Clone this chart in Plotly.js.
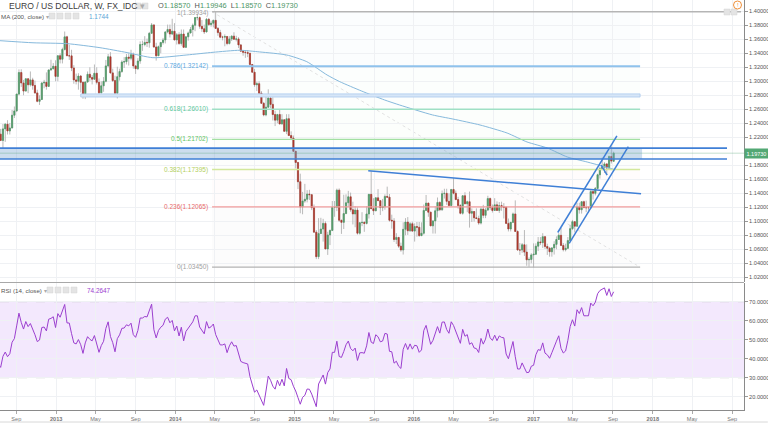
<!DOCTYPE html>
<html><head><meta charset="utf-8">
<script src="https://cdn.plot.ly/plotly-3.0.1.min.js"></script>
<style>html,body{margin:0;padding:0;background:#fff}#chart{width:768px;height:424px}</style>
</head><body><div id="chart"></div>
<script>
// ---------- DATA (weekly EUR/USD, [open, high, low, close]) ----------
const firstWeek = '2012-01-01';
const w2012 = [
[1.2960,1.3080,1.2700,1.2720],[1.2720,1.2880,1.2624,1.2680],[1.2680,1.2985,1.2665,1.2935],[1.2935,1.3165,1.2910,1.3130],[1.3130,1.3235,1.2975,1.3155],
[1.3155,1.3320,1.3065,1.3195],[1.3195,1.3270,1.2975,1.3150],[1.3150,1.3485,1.3150,1.3445],[1.3445,1.3485,1.3185,1.3195],
[1.3195,1.3290,1.3050,1.3120],[1.3120,1.3205,1.3005,1.3175],[1.3175,1.3295,1.3140,1.3275],[1.3275,1.3385,1.3210,1.3340],
[1.3340,1.3385,1.3080,1.3085],[1.3085,1.3185,1.3000,1.3075],
[1.3075,1.3210,1.3035,1.3195],[1.3195,1.3265,1.3110,1.3235],[1.3235,1.3285,1.3075,1.3085],
[1.3085,1.3090,1.2910,1.2915],[1.2915,1.2925,1.2640,1.2780],[1.2780,1.2825,1.2495,1.2515],[1.2515,1.2560,1.2290,1.2435],
[1.2435,1.2625,1.2390,1.2630],[1.2630,1.2670,1.2440,1.2640],[1.2640,1.2745,1.2515,1.2570],[1.2570,1.2690,1.2405,1.2665],
[1.2665,1.2695,1.2290,1.2290],[1.2290,1.2300,1.2160,1.2245],[1.2245,1.2320,1.2145,1.2155],[1.2155,1.2390,1.2042,1.2320],[1.2320,1.2405,1.2135,1.2387],
[1.2387,1.2444,1.2240,1.2290],[1.2290,1.2405,1.2240,1.2333],[1.2333,1.2590,1.2330,1.2515],[1.2515,1.2640,1.2475,1.2577],
[1.2577,1.2820,1.2560,1.2817],[1.2817,1.3170,1.2800,1.3125],[1.3125,1.3172,1.2920,1.2976],[1.2976,1.3020,1.2800,1.2860],[1.2860,1.3040,1.2860,1.3036],
[1.3036,1.3040,1.2830,1.2950],[1.2950,1.3140,1.2925,1.3020],[1.3020,1.3050,1.2880,1.2940],[1.2940,1.3010,1.2820,1.2834],
[1.2834,1.2880,1.2700,1.2713],[1.2713,1.2800,1.2662,1.2740],[1.2740,1.2990,1.2735,1.2975],[1.2975,1.3020,1.2900,1.2985],
[1.2985,1.3127,1.2880,1.2927],[1.2927,1.3165,1.2920,1.3162],[1.3162,1.3308,1.3150,1.3180],[1.3180,1.3260,1.3170,1.3214],[1.3214,1.3300,1.3000,1.3070]
];
const w2013 = [
[1.3070,1.3370,1.3000,1.3365],[1.3365,1.3400,1.3255,1.3315],[1.3315,1.3480,1.3255,1.3455],[1.3455,1.3711,1.3440,1.3635],
[1.3635,1.3650,1.3360,1.3365],[1.3365,1.3520,1.3305,1.3363],[1.3363,1.3450,1.3145,1.3190],[1.3190,1.3230,1.2965,1.3020],
[1.3020,1.3110,1.2955,1.3000],[1.3000,1.3115,1.2880,1.3075],[1.3075,1.3090,1.2840,1.2985],[1.2985,1.3000,1.2750,1.2820],[1.2820,1.3000,1.2745,1.2990],
[1.2990,1.3140,1.2980,1.3100],[1.3100,1.3200,1.3000,1.3055],[1.3055,1.3090,1.2955,1.3030],[1.3030,1.3240,1.3025,1.3115],
[1.3115,1.3200,1.2955,1.2985],[1.2985,1.3040,1.2795,1.2835],[1.2835,1.3000,1.2830,1.2935],[1.2935,1.3060,1.2850,1.3000],
[1.3000,1.3305,1.2985,1.3220],[1.3220,1.3390,1.3200,1.3350],[1.3350,1.3416,1.3110,1.3120],[1.3120,1.3180,1.2990,1.3010],[1.3010,1.3080,1.2805,1.2830],
[1.2830,1.3208,1.2755,1.3065],[1.3065,1.3180,1.3010,1.3140],[1.3140,1.3300,1.3120,1.3275],[1.3275,1.3345,1.3190,1.3280],
[1.3280,1.3390,1.3240,1.3345],[1.3345,1.3400,1.3225,1.3330],[1.3330,1.3450,1.3300,1.3380],[1.3380,1.3410,1.3180,1.3220],
[1.3220,1.3225,1.3105,1.3180],[1.3180,1.3330,1.3160,1.3290],[1.3290,1.3570,1.3250,1.3525],[1.3525,1.3580,1.3435,1.3525],[1.3525,1.3645,1.3500,1.3555],
[1.3555,1.3610,1.3490,1.3550],[1.3550,1.3705,1.3480,1.3685],[1.3685,1.3832,1.3680,1.3805],[1.3805,1.3810,1.3480,1.3490],
[1.3490,1.3550,1.3295,1.3365],[1.3365,1.3510,1.3365,1.3495],[1.3495,1.3560,1.3400,1.3555],[1.3555,1.3620,1.3525,1.3590],
[1.3590,1.3710,1.3540,1.3705],[1.3705,1.3810,1.3685,1.3740],[1.3740,1.3810,1.3625,1.3675],[1.3675,1.3893,1.3660,1.3715],[1.3715,1.3830,1.3590,1.3590]
];
const w2014 = [
[1.3590,1.3690,1.3525,1.3665],[1.3665,1.3700,1.3520,1.3540],[1.3540,1.3740,1.3510,1.3675],[1.3675,1.3740,1.3480,1.3485],
[1.3485,1.3620,1.3475,1.3635],[1.3635,1.3710,1.3580,1.3690],[1.3690,1.3775,1.3685,1.3740],[1.3740,1.3825,1.3640,1.3800],
[1.3800,1.3915,1.3715,1.3910],[1.3910,1.3967,1.3870,1.3910],[1.3910,1.3925,1.3750,1.3785],[1.3785,1.3875,1.3705,1.3750],[1.3750,1.3810,1.3675,1.3705],
[1.3705,1.3905,1.3700,1.3885],[1.3885,1.3905,1.3790,1.3810],[1.3810,1.3865,1.3780,1.3830],[1.3830,1.3880,1.3770,1.3870],
[1.3870,1.3993,1.3750,1.3755],[1.3755,1.3775,1.3650,1.3695],[1.3695,1.3735,1.3615,1.3630],[1.3630,1.3650,1.3585,1.3630],
[1.3630,1.3670,1.3500,1.3640],[1.3640,1.3645,1.3515,1.3540],[1.3540,1.3645,1.3525,1.3605],[1.3605,1.3655,1.3575,1.3645],[1.3645,1.3700,1.3590,1.3600],
[1.3600,1.3650,1.3570,1.3605],[1.3605,1.3630,1.3475,1.3520],[1.3520,1.3530,1.3425,1.3430],[1.3430,1.3445,1.3365,1.3415],
[1.3415,1.3445,1.3335,1.3410],[1.3410,1.3445,1.3345,1.3400],[1.3400,1.3400,1.3225,1.3240],[1.3240,1.3245,1.3125,1.3130],[1.3130,1.3175,1.2920,1.2950],
[1.2950,1.2995,1.2860,1.2965],[1.2965,1.3000,1.2815,1.2830],[1.2830,1.2860,1.2680,1.2685],[1.2685,1.2705,1.2500,1.2520],
[1.2520,1.2790,1.2500,1.2630],[1.2630,1.2885,1.2620,1.2760],[1.2760,1.2770,1.2615,1.2670],[1.2670,1.2770,1.2440,1.2525],
[1.2525,1.2580,1.2360,1.2445],[1.2445,1.2535,1.2400,1.2525],[1.2525,1.2600,1.2390,1.2390],[1.2390,1.2530,1.2385,1.2450],[1.2450,1.2455,1.2285,1.2285],
[1.2285,1.2530,1.2245,1.2465],[1.2465,1.2530,1.2220,1.2225],[1.2225,1.2285,1.2160,1.2190],[1.2190,1.2225,1.1990,1.2000]
];
const w2015 = [
[1.2000,1.2000,1.1755,1.1840],[1.1840,1.1850,1.1460,1.1565],[1.1565,1.1680,1.1115,1.1205],[1.1205,1.1420,1.1100,1.1290],
[1.1290,1.1535,1.1265,1.1315],[1.1315,1.1445,1.1270,1.1390],[1.1390,1.1450,1.1305,1.1380],[1.1380,1.1390,1.1160,1.1195],
[1.1195,1.1240,1.0840,1.0845],[1.0845,1.0875,1.0460,1.0495],[1.0495,1.1045,1.0460,1.0825],[1.0825,1.1050,1.0820,1.0890],[1.0890,1.1035,1.0710,1.0970],
[1.0970,1.1000,1.0605,1.0605],[1.0605,1.0850,1.0520,1.0805],[1.0805,1.0880,1.0660,1.0870],[1.0870,1.1290,1.0860,1.1200],
[1.1200,1.1290,1.1065,1.1200],[1.1200,1.1467,1.1145,1.1445],[1.1445,1.1470,1.0990,1.1015],[1.1015,1.1020,1.0820,1.0985],[1.0985,1.1380,1.0890,1.1110],
[1.1110,1.1385,1.1110,1.1265],[1.1265,1.1435,1.1205,1.1350],[1.1350,1.1410,1.1135,1.1165],[1.1165,1.1280,1.0955,1.1105],
[1.1105,1.1215,1.0915,1.1160],[1.1160,1.1200,1.0810,1.0830],[1.0830,1.0985,1.0810,1.0980],[1.0980,1.1130,1.0930,1.0985],
[1.0985,1.1000,1.0850,1.0970],[1.0970,1.1215,1.0955,1.1105],[1.1105,1.1390,1.1040,1.1385],[1.1385,1.1714,1.1180,1.1180],[1.1180,1.1330,1.1090,1.1150],
[1.1150,1.1345,1.1150,1.1335],[1.1335,1.1460,1.1290,1.1295],[1.1295,1.1305,1.1090,1.1195],[1.1195,1.1320,1.1145,1.1210],
[1.1210,1.1385,1.1165,1.1355],[1.1355,1.1495,1.1350,1.1345],[1.1345,1.1390,1.0995,1.1015],[1.1015,1.1095,1.0895,1.1005],
[1.1005,1.1045,1.0705,1.0740],[1.0740,1.0830,1.0675,1.0770],[1.0770,1.0775,1.0620,1.0645],[1.0645,1.0695,1.0565,1.0590],[1.0590,1.0985,1.0525,1.0885],
[1.0885,1.1045,1.0800,1.0990],[1.0990,1.1060,1.0805,1.0865],[1.0865,1.0990,1.0850,1.0965],[1.0965,1.0995,1.0850,1.0860]
];
const w2016 = [
[1.0860,1.0970,1.0710,1.0925],[1.0925,1.0990,1.0780,1.0915],[1.0915,1.0990,1.0780,1.0795],[1.0795,1.0985,1.0790,1.0830],[1.0830,1.1240,1.0810,1.1155],
[1.1155,1.1376,1.1155,1.1260],[1.1260,1.1265,1.1065,1.1130],[1.1130,1.1135,1.0935,1.0935],[1.0935,1.1015,1.0825,1.1005],
[1.1005,1.1215,1.0825,1.1150],[1.1150,1.1340,1.1055,1.1270],[1.1270,1.1285,1.1145,1.1165],[1.1165,1.1440,1.1150,1.1395],
[1.1395,1.1465,1.1325,1.1400],[1.1400,1.1465,1.1235,1.1285],[1.1285,1.1400,1.1215,1.1225],[1.1225,1.1460,1.1215,1.1455],
[1.1455,1.1616,1.1385,1.1400],[1.1400,1.1440,1.1305,1.1310],[1.1310,1.1350,1.1180,1.1225],[1.1225,1.1245,1.1100,1.1115],[1.1115,1.1375,1.1095,1.1365],
[1.1365,1.1415,1.1250,1.1250],[1.1250,1.1295,1.1130,1.1280],[1.1280,1.1425,1.0910,1.1115],[1.1115,1.1185,1.0990,1.1140],
[1.1140,1.1145,1.0995,1.1050],[1.1050,1.1185,1.1030,1.1040],[1.1040,1.1080,1.0950,1.0975],[1.0975,1.1200,1.0955,1.1175],[1.1175,1.1235,1.1045,1.1085],
[1.1085,1.1190,1.1045,1.1160],[1.1160,1.1365,1.1155,1.1325],[1.1325,1.1340,1.1160,1.1195],[1.1195,1.1240,1.1125,1.1155],
[1.1155,1.1330,1.1150,1.1235],[1.1235,1.1285,1.1150,1.1155],[1.1155,1.1275,1.1120,1.1225],[1.1225,1.1280,1.1150,1.1205],
[1.1205,1.1260,1.1040,1.1200],[1.1200,1.1210,1.0960,1.0970],[1.0970,1.1040,1.0855,1.0890],[1.0890,1.0990,1.0855,1.0985],[1.0985,1.1125,1.0975,1.1105],
[1.1105,1.1299,1.0850,1.0855],[1.0855,1.0870,1.0585,1.0590],[1.0590,1.0690,1.0520,1.0590],[1.0590,1.0690,1.0550,1.0665],
[1.0665,1.0875,1.0505,1.0560],[1.0560,1.0670,1.0365,1.0450],[1.0450,1.0485,1.0350,1.0455],[1.0455,1.0545,1.0400,1.0520]
];
const w2017 = [
[1.0520,1.0685,1.0340,1.0530],[1.0530,1.0685,1.0520,1.0645],[1.0645,1.0775,1.0575,1.0705],[1.0705,1.0775,1.0660,1.0695],[1.0695,1.0830,1.0620,1.0780],
[1.0780,1.0790,1.0605,1.0640],[1.0640,1.0680,1.0520,1.0615],[1.0615,1.0635,1.0495,1.0565],[1.0565,1.0630,1.0495,1.0620],
[1.0620,1.0715,1.0525,1.0670],[1.0670,1.0785,1.0600,1.0740],[1.0740,1.0830,1.0740,1.0800],[1.0800,1.0905,1.0645,1.0655],
[1.0655,1.0690,1.0570,1.0595],[1.0595,1.0680,1.0570,1.0615],[1.0615,1.0775,1.0605,1.0725],[1.0725,1.0950,1.0725,1.0895],[1.0895,1.1020,1.0875,1.0995],
[1.0995,1.1000,1.0840,1.0930],[1.0930,1.1265,1.0925,1.1205],[1.1205,1.1265,1.1110,1.1165],[1.1165,1.1285,1.1110,1.1280],
[1.1280,1.1295,1.1195,1.1195],[1.1195,1.1295,1.1130,1.1195],[1.1195,1.1215,1.1120,1.1195],[1.1195,1.1445,1.1180,1.1425],
[1.1425,1.1445,1.1310,1.1400],[1.1400,1.1490,1.1370,1.1470],[1.1470,1.1680,1.1460,1.1665],[1.1665,1.1780,1.1610,1.1750],[1.1750,1.1910,1.1730,1.1775],
[1.1775,1.1845,1.1690,1.1820],[1.1820,1.1825,1.1660,1.1760],[1.1760,1.1940,1.1740,1.1925],[1.1925,1.2070,1.1825,1.1860],
[1.1857,1.19946,1.1857,1.1973]
];

// 200-week moving average
const maDates = ['2012-07-13','2012-10-22','2013-02-04','2013-05-15','2013-08-06','2013-10-24','2014-02-05','2014-04-26','2014-07-17','2014-09-16','2014-12-07','2015-02-07','2015-04-10','2015-05-19','2015-07-25','2015-10-03','2015-11-18','2016-02-27','2016-04-29','2016-07-21','2016-10-12','2016-12-12','2017-02-12','2017-04-14','2017-06-14','2017-09-03'];
const maValues = [1.358,1.355,1.3537,1.348,1.341,1.3337,1.3376,1.3414,1.3443,1.3419,1.3376,1.328,1.309,1.2994,1.286,1.2733,1.2661,1.2519,1.2461,1.2376,1.2261,1.2133,1.2047,1.1919,1.1847,1.1744];

// Fibonacci retracement drawing
const fibRatios = ['1','0.786','0.618','0.5','0.382','0.236','0'];
const fibPrices = [1.39934,1.32142,1.26010,1.21702,1.17395,1.12065,1.03450];
const fibColors = ['#a0a0a0','#5da8e0','#5cc79c','#62c462','#b2cf5e','#e86a6a','#a0a0a0'];
const fibLineColors = ['#b5b5b5','#8fc2ec','#9fe0c5','#a3e0a3','#d3e89c','#f29c9c','#b3b3b3'];
const fibSpan = ['2014-04-23','2017-11-23'];
const topLineEnd = '2018-09-28';

// Other drawings: [date, price] endpoints
const trendLine = [['2015-08-14',1.1723],['2017-11-26',1.1394]];
const channelUpper = [['2017-03-16',1.0840],['2017-09-13',1.2219]];
const channelLower = [['2017-04-20',1.0686],['2017-10-18',1.2066]];
const tickLine = [['2017-07-27',1.1804],['2017-08-14',1.1661]];
const supportBand = {dates:['2013-03-17','2017-11-23'], prices:[1.2775,1.2820]};
const resistZone = {fillEnd:'2017-11-29', lineEnd:'2018-08-16', start:'2012-07-01', prices:[1.1890,1.2045]};
const lastPrice = 1.1973;
const rsiBand = [30,70];

const priceTicks = [1.02,1.04,1.06,1.08,1.10,1.12,1.14,1.16,1.18,1.22,1.24,1.26,1.28,1.30,1.32,1.34,1.36,1.38,1.40];
const xTickDates = ['2012-09-01','2013-01-01','2013-05-01','2013-09-01','2014-01-01','2014-05-01','2014-09-01','2015-01-01','2015-05-01','2015-09-01','2016-01-01','2016-05-01','2016-09-01','2017-01-01','2017-05-01','2017-09-01','2018-01-01','2018-05-01','2018-09-01'];
const xTickLabels = ['Sep','2013','May','Sep','2014','May','Sep','2015','May','Sep','2016','May','Sep','2017','May','Sep','2018','May','Sep'];

// ---------- BUILD ----------
const rows = [].concat(w2012,w2013,w2014,w2015,w2016,w2017);
const t0 = new Date(firstWeek+'T00:00:00Z').getTime();
const dates = rows.map((r,i)=>new Date(t0+i*7*86400000).toISOString().slice(0,10));
const opens = rows.map(r=>r[0]), highs = rows.map(r=>r[1]), lows = rows.map(r=>r[2]), closes = rows.map(r=>r[3]);

function rsi(cl,n){
  const out = new Array(cl.length).fill(null);
  let g=0,l=0;
  for(let i=1;i<=n;i++){const d=cl[i]-cl[i-1]; if(d>0) g+=d; else l-=d;}
  g/=n; l/=n; out[n]=100-100/(1+g/l);
  for(let i=n+1;i<cl.length;i++){
    const d=cl[i]-cl[i-1];
    g=(g*(n-1)+Math.max(d,0))/n; l=(l*(n-1)+Math.max(-d,0))/n;
    out[i]= l===0?100:100-100/(1+g/l);
  }
  return out;
}
const rsiVals = rsi(closes,14);

const UP='#4f9a67', DN='#ab372b', WICK='#b9b9b9';
const FONT='Liberation Sans, Arial, sans-serif';

const traces = [
  {type:'candlestick', x:dates, open:opens, high:highs, low:lows, close:closes, xaxis:'x', yaxis:'y',
   increasing:{line:{color:WICK,width:1},fillcolor:WICK}, decreasing:{line:{color:WICK,width:1},fillcolor:WICK},
   whiskerwidth:0, hoverinfo:'skip', showlegend:false},
  {type:'candlestick', x:dates, open:opens, close:closes,
   high:rows.map(r=>Math.max(r[0],r[3])), low:rows.map(r=>Math.min(r[0],r[3])), xaxis:'x', yaxis:'y',
   increasing:{line:{color:UP,width:0.6},fillcolor:UP}, decreasing:{line:{color:DN,width:0.6},fillcolor:DN},
   whiskerwidth:0, hoverinfo:'skip', showlegend:false},
  {type:'scatter', mode:'lines', x:maDates, y:maValues, line:{color:'#86b9dc',width:1,shape:'spline',smoothing:0.6}, xaxis:'x', yaxis:'y', hoverinfo:'skip', showlegend:false},
  {type:'scatter', mode:'lines', x:dates, y:rsiVals, line:{color:'#9b3fcf',width:1}, xaxis:'x', yaxis:'y2', hoverinfo:'skip', showlegend:false}
];

const W=744, H=410;
const px = v=>v/W, py = v=>1-v/H;
const shapes = [];
// fib faint backgrounds
for(let i=0;i<fibPrices.length-1;i++){
  shapes.push({type:'rect', xref:'x', yref:'y', x0:fibSpan[0], x1:fibSpan[1], y0:fibPrices[i+1], y1:fibPrices[i],
    fillcolor:fibLineColors[i+1], opacity:0.035, line:{width:0}, layer:'below'});
}
// fib lines
fibPrices.forEach((p,i)=>{
  shapes.push({type:'line', xref:'x', yref:'y', x0:fibSpan[0], x1:(i===0?topLineEnd:fibSpan[1]), y0:p, y1:p,
    line:{color:fibLineColors[i], width:(i===1?2:1.4)}, layer:'above'});
});
// fib diagonal
shapes.push({type:'line', xref:'x', yref:'y', x0:fibSpan[0], x1:fibSpan[1], y0:fibPrices[0], y1:fibPrices[6],
  line:{color:'#e2e2e2', width:1, dash:'dot'}, layer:'below'});
// support band
shapes.push({type:'rect', xref:'x', yref:'y', x0:supportBand.dates[0], x1:supportBand.dates[1], y0:supportBand.prices[0], y1:supportBand.prices[1],
  fillcolor:'#d6e6f7', line:{color:'#a9c9ee', width:0.8}, layer:'above'});
// resistance zone
shapes.push({type:'rect', xref:'x', yref:'y', x0:resistZone.start, x1:resistZone.fillEnd, y0:resistZone.prices[0], y1:resistZone.prices[1],
  fillcolor:'rgba(120,165,210,0.38)', line:{width:0}, layer:'above'});
resistZone.prices.forEach(p=>shapes.push({type:'line', xref:'x', yref:'y', x0:resistZone.start, x1:resistZone.lineEnd, y0:p, y1:p,
  line:{color:'#3f7fd6', width:1.6}, layer:'above'}));
// last price line
shapes.push({type:'line', xref:'paper', yref:'y', x0:0, x1:1, y0:lastPrice, y1:lastPrice, line:{color:'rgba(90,170,120,0.35)', width:1}, layer:'above'});
// trend / channel lines
[trendLine, channelUpper, channelLower, tickLine].forEach(L=>{
  shapes.push({type:'line', xref:'x', yref:'y', x0:L[0][0], y0:L[0][1], x1:L[1][0], y1:L[1][1], line:{color:'#3f7fd6', width:1.5}, layer:'above'});
});
// RSI band
shapes.push({type:'rect', xref:'paper', yref:'y2', x0:0, x1:1, y0:rsiBand[0], y1:rsiBand[1], fillcolor:'#f3e8fd', line:{width:0}, layer:'below'});
rsiBand.forEach(v=>shapes.push({type:'line', xref:'paper', yref:'y2', x0:0, x1:1, y0:v, y1:v, line:{color:'#c4c4c4', width:1, dash:'dash'}, layer:'below'}));
// panel separator and bottom rule
shapes.push({type:'line', xref:'paper', yref:'paper', x0:0, x1:1, y0:py(282.5), y1:py(282.5), line:{color:'#a8a8a8', width:1}});
shapes.push({type:'line', xref:'paper', yref:'paper', x0:0, x1:1.032, y0:py(422), y1:py(422), line:{color:'#d8d8d8', width:1}});
// small icon squares
[[138,6],[145,6],[52,16],[60,16],[68,16],[76,16],[50,290],[58,290],[66,290],[74,290],[727,12],[734,12]].forEach(s=>{
  shapes.push({type:'rect', xref:'paper', yref:'paper', x0:px(s[0]-3), x1:px(s[0]+3), y0:py(s[1]+3), y1:py(s[1]-3),
    fillcolor:'#e4e4e4', line:{color:'#d6d6d6', width:0.5}});
});
shapes.push({type:'circle', xref:'paper', yref:'paper', x0:px(733.5), x1:px(741.5), y0:py(9), y1:py(1), line:{color:'#f0903a', width:1}, fillcolor:'#fff'});

const annotations = [];
fibRatios.forEach((r,i)=>{
  annotations.push({xref:'x', yref:'y', x:fibSpan[0], y:fibPrices[i], xanchor:'right', yanchor:'middle', xshift:-2, yshift:(i===0?-1.5:0), showarrow:false,
    text:r+'('+fibPrices[i].toFixed(5)+')', font:{family:FONT, size:6.5, color:fibColors[i]}});
});
const G='#4d9666';
annotations.push({xref:'paper', yref:'paper', x:px(7), y:py(6), xanchor:'left', yanchor:'middle', showarrow:false,
  text:'EURO / US DOLLAR, W, FX_IDC <span style="color:#aaa">▾</span>', font:{family:FONT, size:8.6, color:'#3d3d3d'}});
annotations.push({xref:'paper', yref:'paper', x:px(156), y:py(5.5), xanchor:'left', yanchor:'middle', showarrow:false,
  text:'O<span style="color:'+G+'">1.18570</span>  H<span style="color:'+G+'">1.19946</span>  L<span style="color:'+G+'">1.18570</span>  C<span style="color:'+G+'">1.19730</span>',
  font:{family:FONT, size:7.4, color:'#555'}});
annotations.push({xref:'paper', yref:'paper', x:px(-1), y:py(16), xanchor:'left', yanchor:'middle', showarrow:false,
  text:'MA (200, close) <span style="color:#aaa">▾</span>', font:{family:FONT, size:6.2, color:'#555'}});
annotations.push({xref:'paper', yref:'paper', x:px(87), y:py(16), xanchor:'left', yanchor:'middle', showarrow:false,
  text:'1.1744', font:{family:FONT, size:6.4, color:'#5aa6d6'}});
annotations.push({xref:'paper', yref:'paper', x:px(-1), y:py(290), xanchor:'left', yanchor:'middle', showarrow:false,
  text:'RSI (14, close) <span style="color:#aaa">▾</span>', font:{family:FONT, size:6.2, color:'#555'}});
annotations.push({xref:'paper', yref:'paper', x:px(85), y:py(290), xanchor:'left', yanchor:'middle', showarrow:false,
  text:'74.2647', font:{family:FONT, size:6.4, color:'#9b3fcf'}});
annotations.push({xref:'paper', yref:'y', x:1, y:lastPrice, xanchor:'left', yanchor:'middle', showarrow:false,
  text:lastPrice.toFixed(5), bgcolor:'#52a874', borderpad:1.5, font:{family:FONT, size:5.5, color:'#fff'}});
annotations.push({xref:'paper', yref:'paper', x:px(737.5), y:py(5), xanchor:'center', yanchor:'middle', showarrow:false,
  text:'!', font:{family:FONT, size:6, color:'#f0903a'}});

const yCommon = {side:'right', showline:true, linecolor:'#8a8a8a', linewidth:1, ticks:'outside', ticklen:3, tickcolor:'#999',
  gridcolor:'#eff1f4', zeroline:false, fixedrange:true, tickfont:{family:FONT, size:5.6, color:'#555'}};
const layout = {
  width:768, height:424, margin:{l:0, r:24, t:0, b:14}, paper_bgcolor:'#fff', plot_bgcolor:'#fff',
  showlegend:false, dragmode:false,
  xaxis:{type:'date', range:['2012-07-13','2018-10-07'], anchor:'y2', tickmode:'array', tickvals:xTickDates,
    ticktext:xTickLabels.map(t=>/^\d{4}$/.test(t)?'<b>'+t+'</b>':t),
    tickfont:{family:FONT, size:5.6, color:'#777'}, ticks:'outside', ticklen:3, tickcolor:'#aaa',
    showgrid:true, gridcolor:'#eff1f4', showline:true, linecolor:'#8a8a8a', zeroline:false,
    rangeslider:{visible:false}, fixedrange:true},
  yaxis:Object.assign({domain:[1-282/410,1], range:[1.0133,1.4161], tickmode:'array', tickvals:priceTicks, ticktext:priceTicks.map(v=>v.toFixed(5))}, yCommon),
  yaxis2:Object.assign({domain:[0,1-283/410], range:[13.0,79.84], tick0:0, dtick:10, tickformat:'.4f'}, yCommon),
  shapes:shapes, annotations:annotations
};
Plotly.newPlot('chart', traces, layout, {staticPlot:true, displayModeBar:false});
</script>
</body></html>
